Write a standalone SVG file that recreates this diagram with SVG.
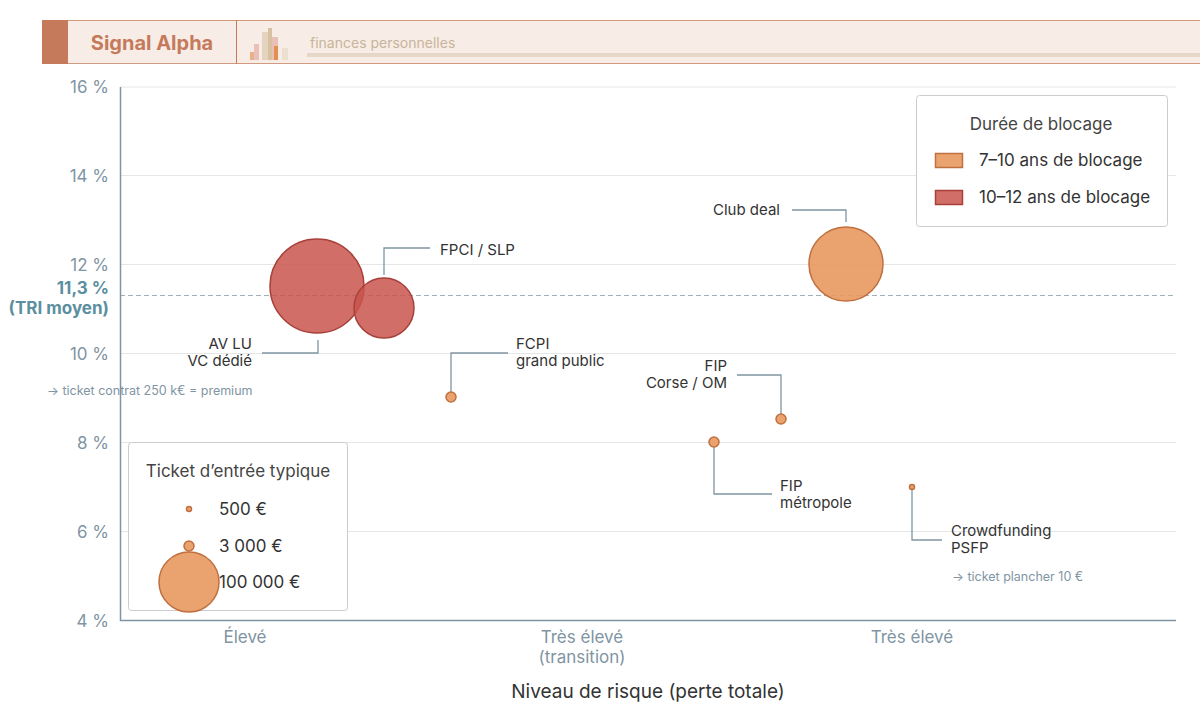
<svg xmlns="http://www.w3.org/2000/svg" width="1200" height="721" viewBox="0 0 1200 721">
<style>
text{font-family:Inter,"Liberation Sans",sans-serif}
.tick{font-size:17px;fill:#7f95a3;text-anchor:end}
.grid{stroke:#e6e6e6;stroke-width:1}
.lab{font-size:15px;fill:#333}
.lead{fill:none;stroke:#7f95a3;stroke-width:1.3}
.red{fill:#c8554c;fill-opacity:0.85;stroke:#a8403a;stroke-width:1.5}
.org{fill:#e8995f;fill-opacity:0.9;stroke:#c07040;stroke-width:1.5}
.note{font-size:12.5px;fill:#7f95a3}
.xl{font-size:17px;fill:#7f95a3;text-anchor:middle}
.leg{font-size:17px;fill:#333}
</style>
<rect width="1200" height="721" fill="#fff"/>
<g id="header">
<rect x="42" y="20" width="1158" height="44" fill="#f7ede6"/>
<line x1="42" y1="20.5" x2="1200" y2="20.5" stroke="#d49a80"/>
<line x1="42" y1="63.5" x2="1200" y2="63.5" stroke="#d49a80"/>
<rect x="42" y="20" width="26" height="44" fill="#c57a5c"/>
<line x1="236.5" y1="20" x2="236.5" y2="64" stroke="#c57a5c"/>
<text x="152" y="50" font-size="20" font-weight="bold" fill="#c57a5c" text-anchor="middle" font-family="Lato,sans-serif">Signal Alpha</text>
<rect x="250" y="52" width="6" height="8" fill="#e8b08a"/>
<rect x="254" y="44" width="5" height="16" fill="#e8c0b8"/>
<rect x="262" y="32" width="6" height="28" fill="#e4d4bf"/>
<rect x="268" y="28" width="4" height="32" fill="#d8c0a0"/>
<rect x="272" y="37" width="6" height="23" fill="#e8c0b8"/>
<rect x="274" y="46" width="4" height="14" fill="#e09050"/>
<rect x="282" y="48" width="6" height="12" fill="#ebe0d0"/>
<text x="310" y="48" font-size="14" fill="#c8b49a">finances personnelles</text>
<rect x="307" y="53" width="893" height="4" fill="#e6d8c8"/>
</g>
<g id="grid">
<line class="grid" x1="120" y1="87" x2="1176" y2="87"/>
<line class="grid" x1="120" y1="175.5" x2="1176" y2="175.5"/>
<line class="grid" x1="120" y1="264.5" x2="1176" y2="264.5"/>
<line class="grid" x1="120" y1="353.5" x2="1176" y2="353.5"/>
<line class="grid" x1="120" y1="442.5" x2="1176" y2="442.5"/>
<line class="grid" x1="120" y1="531.5" x2="1176" y2="531.5"/>
<line x1="120" y1="295.5" x2="1176" y2="295.5" stroke="#9fb0b8" stroke-dasharray="5,3"/>
<line x1="120.5" y1="87" x2="120.5" y2="621" stroke="#7f95a3" stroke-width="1.5"/>
<line x1="120" y1="620.5" x2="1176" y2="620.5" stroke="#7f95a3" stroke-width="1.5"/>
</g>
<g id="axes">
<text class="tick" x="109" y="93">16 %</text>
<text class="tick" x="109" y="182">14 %</text>
<text class="tick" x="109" y="271">12 %</text>
<text class="tick" x="109" y="360">10 %</text>
<text class="tick" x="109" y="449">8 %</text>
<text class="tick" x="109" y="538">6 %</text>
<text class="tick" x="109" y="627">4 %</text>
<text x="109" y="294" font-size="17" font-weight="bold" fill="#5b8fa0" text-anchor="end">11,3 %</text>
<text x="109" y="314" font-size="17" font-weight="bold" fill="#5b8fa0" text-anchor="end">(TRI moyen)</text>
<text class="xl" x="245" y="643">Élevé</text>
<text class="xl" x="582" y="643">Très élevé</text>
<text class="xl" x="582" y="663">(transition)</text>
<text class="xl" x="912" y="643">Très élevé</text>
<text x="648" y="698" font-size="19" fill="#333" text-anchor="middle">Niveau de risque (perte totale)</text>
</g>
<g id="connectors">
<polyline class="lead" points="318,340 318,353 262,353"/>
<polyline class="lead" points="384,275 384,248 430,248"/>
<polyline class="lead" points="451,392 451,353 508,353"/>
<polyline class="lead" points="846,222 846,210 792,210"/>
<polyline class="lead" points="781,414 781,375 737,375"/>
<polyline class="lead" points="714,447 714,494 772,494"/>
<polyline class="lead" points="912,490 912,540 942,540"/>
</g>
<g id="n-avlu"><circle class="red" cx="317" cy="286" r="47"/>
<text class="lab" x="252" y="349" text-anchor="end">AV LU</text><text class="lab" x="252" y="366" text-anchor="end">VC dédié</text></g>
<g id="n-fpci"><circle class="red" cx="384" cy="308" r="30"/>
<text class="lab" x="440" y="255">FPCI / SLP</text></g>
<g id="n-fcpi"><circle class="org" cx="451" cy="397" r="5"/>
<text class="lab" x="516" y="349">FCPI</text><text class="lab" x="516" y="366">grand public</text></g>
<g id="n-club"><circle class="org" cx="846" cy="264" r="37"/>
<text class="lab" x="780" y="215" text-anchor="end">Club deal</text></g>
<g id="n-fipcorse"><circle class="org" cx="781" cy="419" r="5"/>
<text class="lab" x="727" y="371" text-anchor="end">FIP</text><text class="lab" x="727" y="388" text-anchor="end">Corse / OM</text></g>
<g id="n-fipmetro"><circle class="org" cx="714" cy="442" r="5"/>
<text class="lab" x="780" y="491">FIP</text><text class="lab" x="780" y="508">métropole</text></g>
<g id="n-crowd"><circle class="org" cx="912" cy="487" r="2.5"/>
<text class="lab" x="951" y="536">Crowdfunding</text><text class="lab" x="951" y="553">PSFP</text></g>
<text class="note" x="47" y="395">→ ticket contrat 250 k€ = premium</text>
<text class="note" x="952" y="581">→ ticket plancher 10 €</text>
<g id="legend-duree">
<rect x="916.5" y="95.5" width="251" height="131" rx="3" fill="#fff" stroke="#ccc"/>
<text x="1041" y="130" font-size="17" fill="#444" text-anchor="middle">Durée de blocage</text>
<rect x="935.5" y="153.5" width="27" height="14" class="org"/>
<text class="leg" x="979" y="166">7–10 ans de blocage</text>
<rect x="935.5" y="190.5" width="27" height="14" class="red"/>
<text class="leg" x="979" y="203">10–12 ans de blocage</text>
</g>
<g id="legend-ticket">
<rect x="128.5" y="442.5" width="219" height="168" rx="3" fill="#fff" stroke="#ccc"/>
<text x="238" y="477" font-size="17" fill="#444" text-anchor="middle">Ticket d’entrée typique</text>
<circle class="org" cx="189" cy="509" r="2.5"/>
<text class="leg" x="219" y="515">500 €</text>
<circle class="org" cx="189" cy="546" r="5"/>
<text class="leg" x="219" y="552">3 000 €</text>
<circle class="org" cx="189" cy="582" r="30"/>
<text class="leg" x="219" y="588">100 000 €</text>
</g>
</svg>
